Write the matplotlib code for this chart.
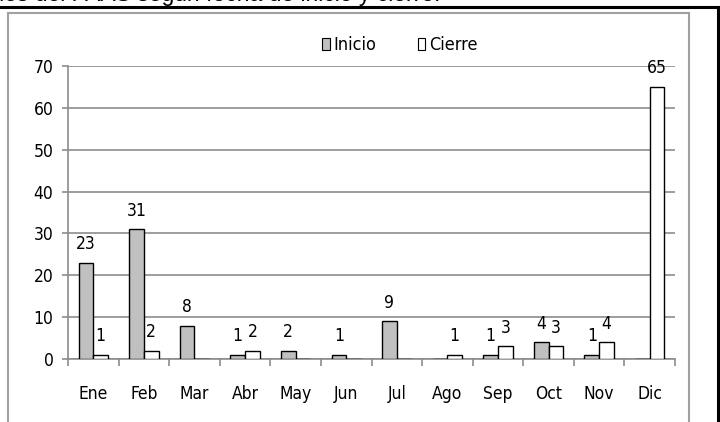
import numpy as np
import matplotlib
matplotlib.use("Agg")
import matplotlib.pyplot as plt
from matplotlib.patches import Patch
from matplotlib.lines import Line2D

meses = ["Ene", "Feb", "Mar", "Abr", "May", "Jun", "Jul", "Ago", "Sep", "Oct", "Nov", "Dic"]
inicio = [23, 31, 8, 1, 2, 1, 9, 0, 1, 4, 1, 0]
cierre = [1, 2, 0, 2, 0, 0, 0, 1, 3, 3, 4, 65]
titulo = "Distribución de actividades del PAAS según fecha de inicio y cierre."

plt.rcParams["font.family"] = ["DejaVu Sans"]
plt.rcParams["font.stretch"] = "condensed"

W, H = 720, 422
fig = plt.figure(figsize=(7.2, 4.22), dpi=100)
ax = fig.add_axes([68 / W, 1 - 359 / H, (675 - 68) / W, (359 - 66) / H])

x = np.arange(len(meses))
w = 0.29
b1 = ax.bar(x - w / 2, inicio, w, color="#c0c0c0", edgecolor="black", linewidth=1.0, zorder=3)
b2 = ax.bar(x + w / 2, cierre, w, color="white", edgecolor="black", linewidth=1.0, zorder=3)

for bars, vals in [(b1, inicio), (b2, cierre)]:
    for r, v in zip(bars, vals):
        if v > 0:
            ax.annotate(str(v), (r.get_x() + r.get_width() / 2, v), xytext=(0, 7),
                        textcoords="offset points", ha="center", va="bottom", fontsize=12.5)

ax.set_xlim(-0.5, len(meses) - 0.5)
ax.set_ylim(0, 70)
ax.set_yticks(range(0, 71, 10))
ax.yaxis.grid(True, color="#8c8c8c", linewidth=1.2, zorder=0)
ax.set_axisbelow(True)

ax.set_xticks(x)
ax.set_xticklabels(meses)
ax.set_xticks(np.arange(-0.5, len(meses)), minor=True)
ax.tick_params(axis="x", which="major", length=0, pad=19, labelsize=12.5)
ax.tick_params(axis="x", which="minor", length=5, width=1.2, color="#8c8c8c", direction="out")
ax.tick_params(axis="y", length=4.5, width=1.2, color="#8c8c8c", pad=6, labelsize=12.5)

for s in ["top", "right"]:
    ax.spines[s].set_visible(False)
for s in ["left", "bottom"]:
    ax.spines[s].set_color("#8c8c8c")
    ax.spines[s].set_linewidth(1.2)

handles = [Patch(facecolor="#c0c0c0", edgecolor="black", linewidth=0.8, label="Inicio"),
           Patch(facecolor="white", edgecolor="black", linewidth=0.8, label="Cierre")]
fig.legend(handles=handles, loc="center left", bbox_to_anchor=(322 / W, 1 - 45 / H),
           ncol=2, frameon=False, fontsize=13, borderpad=0, borderaxespad=0,
           handlelength=0.42, handleheight=0.65, handletextpad=0.2, columnspacing=2.3)

# marco gris del gráfico
gris = "#a0a0a0"
fig.add_artist(Line2D([7.5 / W, 7.5 / W], [0, 1 - 13 / H], color=gris, linewidth=1.5))
fig.add_artist(Line2D([7.5 / W, 689 / W], [1 - 13 / H, 1 - 13 / H], color=gris, linewidth=1.5))
fig.add_artist(Line2D([689 / W, 689 / W], [0, 1 - 13 / H], color=gris, linewidth=1.5))

# borde negro de la página y título recortado
fig.add_artist(Line2D([0, 718 / W], [1 - 7 / H, 1 - 7 / H], color="black", linewidth=2.2))
fig.add_artist(Line2D([718 / W, 718 / W], [0, 1 - 7 / H], color="black", linewidth=2.2))
fig.text(440 / W, 1 - 0.5 / H, titulo, ha="right", va="baseline", fontsize=16.5,
         family=["Liberation Sans", "DejaVu Sans"], stretch="normal")

fig.savefig("out.png", dpi=100)
